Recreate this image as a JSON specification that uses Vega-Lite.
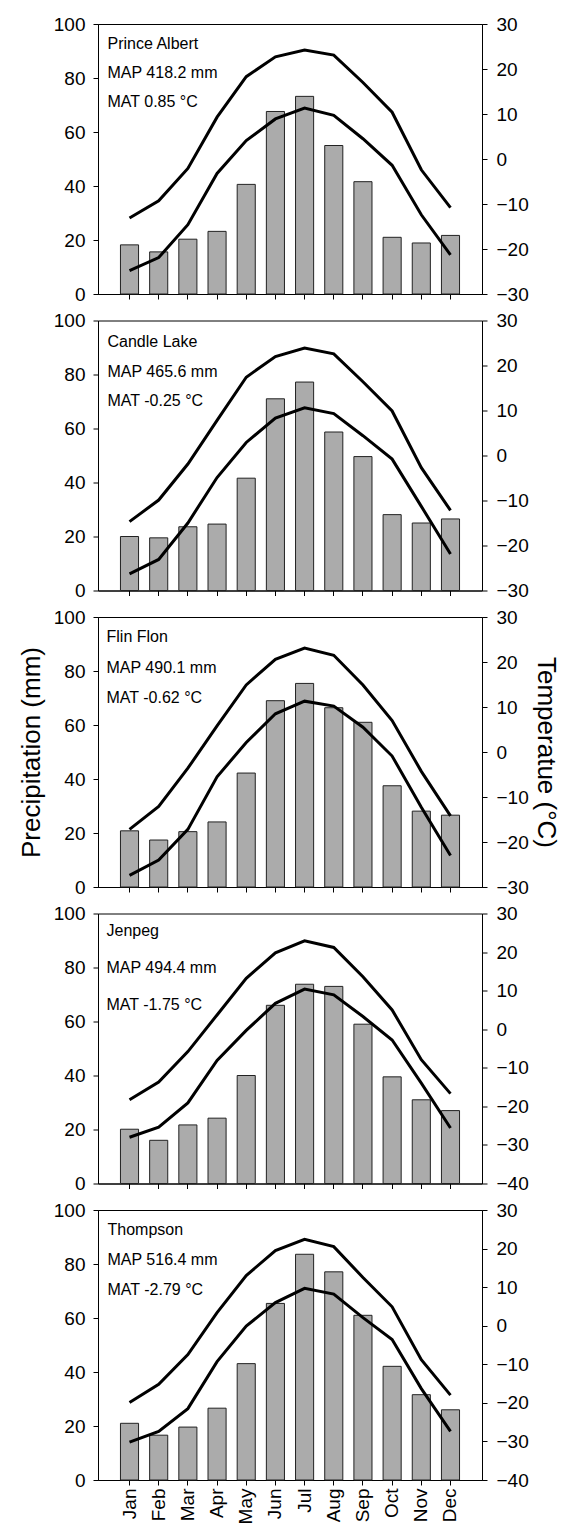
{
  "$schema": "https://vega.github.io/schema/vega-lite/v6.json",
  "padding": {"left": 17, "top": 14, "right": 2, "bottom": 2},
  "background": "white",
  "config": {
    "font": "Liberation Sans",
    "view": {"stroke": "black", "strokeWidth": 1},
    "axis": {"domainColor": "black", "tickColor": "black", "labelColor": "black", "titleColor": "black", "grid": false, "labelFontSize": 19, "titleFontSize": 26, "titleFontWeight": "normal", "tickSize": 5, "domainWidth": 1, "tickWidth": 1},
    "text": {"color": "black"}
  },
  "datasets": {
    "climate": [
      {"station": "Prince Albert", "month": "Jan", "precip": 18.2, "tmax": -13.1, "tmin": -24.8},
      {"station": "Prince Albert", "month": "Feb", "precip": 15.6, "tmax": -9.3, "tmin": -21.9},
      {"station": "Prince Albert", "month": "Mar", "precip": 20.3, "tmax": -2.1, "tmin": -14.6},
      {"station": "Prince Albert", "month": "Apr", "precip": 23.2, "tmax": 9.3, "tmin": -3.2},
      {"station": "Prince Albert", "month": "May", "precip": 40.6, "tmax": 18.3, "tmin": 4.1},
      {"station": "Prince Albert", "month": "Jun", "precip": 67.6, "tmax": 22.7, "tmin": 8.9},
      {"station": "Prince Albert", "month": "Jul", "precip": 73.2, "tmax": 24.2, "tmin": 11.3},
      {"station": "Prince Albert", "month": "Aug", "precip": 55.0, "tmax": 23.1, "tmin": 9.7},
      {"station": "Prince Albert", "month": "Sep", "precip": 41.6, "tmax": 17.0, "tmin": 4.5},
      {"station": "Prince Albert", "month": "Oct", "precip": 21.0, "tmax": 10.4, "tmin": -1.4},
      {"station": "Prince Albert", "month": "Nov", "precip": 18.9, "tmax": -2.4, "tmin": -12.4},
      {"station": "Prince Albert", "month": "Dec", "precip": 21.7, "tmax": -10.8, "tmin": -21.3},
      {"station": "Candle Lake", "month": "Jan", "precip": 20.0, "tmax": -14.7, "tmin": -26.3},
      {"station": "Candle Lake", "month": "Feb", "precip": 19.5, "tmax": -9.9, "tmin": -23.1},
      {"station": "Candle Lake", "month": "Mar", "precip": 23.6, "tmax": -1.9, "tmin": -15.0},
      {"station": "Candle Lake", "month": "Apr", "precip": 24.6, "tmax": 7.8, "tmin": -4.9},
      {"station": "Candle Lake", "month": "May", "precip": 41.6, "tmax": 17.4, "tmin": 2.9},
      {"station": "Candle Lake", "month": "Jun", "precip": 71.0, "tmax": 22.0, "tmin": 8.3},
      {"station": "Candle Lake", "month": "Jul", "precip": 77.2, "tmax": 23.9, "tmin": 10.6},
      {"station": "Candle Lake", "month": "Aug", "precip": 58.7, "tmax": 22.6, "tmin": 9.3},
      {"station": "Candle Lake", "month": "Sep", "precip": 49.6, "tmax": 16.4, "tmin": 4.4},
      {"station": "Candle Lake", "month": "Oct", "precip": 28.1, "tmax": 9.9, "tmin": -0.8},
      {"station": "Candle Lake", "month": "Nov", "precip": 25.0, "tmax": -2.7, "tmin": -11.3},
      {"station": "Candle Lake", "month": "Dec", "precip": 26.5, "tmax": -12.2, "tmin": -21.9},
      {"station": "Flin Flon", "month": "Jan", "precip": 20.8, "tmax": -17.2, "tmin": -27.4},
      {"station": "Flin Flon", "month": "Feb", "precip": 17.4, "tmax": -12.1, "tmin": -24.0},
      {"station": "Flin Flon", "month": "Mar", "precip": 20.5, "tmax": -3.6, "tmin": -17.2},
      {"station": "Flin Flon", "month": "Apr", "precip": 24.1, "tmax": 5.8, "tmin": -5.5},
      {"station": "Flin Flon", "month": "May", "precip": 42.2, "tmax": 14.9, "tmin": 2.1},
      {"station": "Flin Flon", "month": "Jun", "precip": 69.0, "tmax": 20.6, "tmin": 8.5},
      {"station": "Flin Flon", "month": "Jul", "precip": 75.4, "tmax": 23.1, "tmin": 11.3},
      {"station": "Flin Flon", "month": "Aug", "precip": 66.4, "tmax": 21.5, "tmin": 10.2},
      {"station": "Flin Flon", "month": "Sep", "precip": 61.0, "tmax": 14.9, "tmin": 5.5},
      {"station": "Flin Flon", "month": "Oct", "precip": 37.5, "tmax": 7.0, "tmin": -0.9},
      {"station": "Flin Flon", "month": "Nov", "precip": 28.1, "tmax": -4.3, "tmin": -12.3},
      {"station": "Flin Flon", "month": "Dec", "precip": 26.6, "tmax": -14.2, "tmin": -23.0},
      {"station": "Jenpeg", "month": "Jan", "precip": 20.1, "tmax": -18.3, "tmin": -28.0},
      {"station": "Jenpeg", "month": "Feb", "precip": 16.0, "tmax": -13.7, "tmin": -25.4},
      {"station": "Jenpeg", "month": "Mar", "precip": 21.7, "tmax": -5.8, "tmin": -19.1},
      {"station": "Jenpeg", "month": "Apr", "precip": 24.2, "tmax": 3.7, "tmin": -8.1},
      {"station": "Jenpeg", "month": "May", "precip": 40.0, "tmax": 13.2, "tmin": -0.3},
      {"station": "Jenpeg", "month": "Jun", "precip": 66.0, "tmax": 19.8, "tmin": 6.7},
      {"station": "Jenpeg", "month": "Jul", "precip": 73.8, "tmax": 22.9, "tmin": 10.4},
      {"station": "Jenpeg", "month": "Aug", "precip": 73.0, "tmax": 21.2, "tmin": 8.9},
      {"station": "Jenpeg", "month": "Sep", "precip": 59.0, "tmax": 13.6, "tmin": 3.3},
      {"station": "Jenpeg", "month": "Oct", "precip": 39.5, "tmax": 5.0, "tmin": -2.8},
      {"station": "Jenpeg", "month": "Nov", "precip": 31.0, "tmax": -7.9, "tmin": -14.0},
      {"station": "Jenpeg", "month": "Dec", "precip": 27.0, "tmax": -16.7, "tmin": -25.6},
      {"station": "Thompson", "month": "Jan", "precip": 21.0, "tmax": -19.9, "tmin": -30.2},
      {"station": "Thompson", "month": "Feb", "precip": 16.6, "tmax": -15.2, "tmin": -27.4},
      {"station": "Thompson", "month": "Mar", "precip": 19.6, "tmax": -7.5, "tmin": -21.5},
      {"station": "Thompson", "month": "Apr", "precip": 26.6, "tmax": 3.4, "tmin": -9.3},
      {"station": "Thompson", "month": "May", "precip": 43.1, "tmax": 13.0, "tmin": -0.1},
      {"station": "Thompson", "month": "Jun", "precip": 65.4, "tmax": 19.5, "tmin": 6.0},
      {"station": "Thompson", "month": "Jul", "precip": 83.6, "tmax": 22.4, "tmin": 9.7},
      {"station": "Thompson", "month": "Aug", "precip": 77.1, "tmax": 20.5, "tmin": 8.2},
      {"station": "Thompson", "month": "Sep", "precip": 61.0, "tmax": 12.5, "tmin": 2.1},
      {"station": "Thompson", "month": "Oct", "precip": 42.1, "tmax": 4.9, "tmin": -3.6},
      {"station": "Thompson", "month": "Nov", "precip": 31.6, "tmax": -8.8, "tmin": -16.3},
      {"station": "Thompson", "month": "Dec", "precip": 26.0, "tmax": -18.0, "tmin": -27.4}
    ],
    "info": [
      {"station": "Prince Albert", "name": "Prince Albert", "map": "MAP 418.2 mm", "mat": "MAT 0.85 °C"},
      {"station": "Candle Lake", "name": "Candle Lake", "map": "MAP 465.6 mm", "mat": "MAT -0.25 °C"},
      {"station": "Flin Flon", "name": "Flin Flon", "map": "MAP 490.1 mm", "mat": "MAT -0.62 °C"},
      {"station": "Jenpeg", "name": "Jenpeg", "map": "MAP 494.4 mm", "mat": "MAT -1.75 °C"},
      {"station": "Thompson", "name": "Thompson", "map": "MAP 516.4 mm", "mat": "MAT -2.79 °C"}
    ]
  },
  "vconcat": [
    {
      "width": 384, "height": 270,
      "layer": [
        {"layer": [
          {"data": {"name": "climate"}, "transform": [{"filter": "datum.station === 'Prince Albert'"}],
           "mark": {"type": "bar", "fill": "#ababab", "stroke": "#222222", "strokeWidth": 1},
           "encoding": {
             "x": {"field": "month", "type": "ordinal", "scale": {"domain": ["Jan","Feb","Mar","Apr","May","Jun","Jul","Aug","Sep","Oct","Nov","Dec"], "paddingInner": 0.38, "paddingOuter": 0.77}, "axis": {"labels": false, "title": null}},
             "y": {"field": "precip", "type": "quantitative", "scale": {"domain": [0, 100]}, "axis": {"orient": "left", "values": [0,20,40,60,80,100], "labelPadding": 8, "title": null}}
           }},
          {"data": {"name": "info"}, "transform": [{"filter": "datum.station === 'Prince Albert'"}],
           "mark": {"type": "text", "align": "left", "baseline": "middle", "dx": -22, "fontSize": 16},
           "encoding": {"x": {"datum": "Jan", "type": "ordinal", "axis": {"labels": false, "title": null}}, "y": {"datum": 92.5, "type": "quantitative", "axis": {"orient": "left", "values": [0,20,40,60,80,100], "labelPadding": 8, "title": null}}, "text": {"field": "name"}}},
          {"data": {"name": "info"}, "transform": [{"filter": "datum.station === 'Prince Albert'"}],
           "mark": {"type": "text", "align": "left", "baseline": "middle", "dx": -22, "fontSize": 16},
           "encoding": {"x": {"datum": "Jan", "type": "ordinal", "axis": {"labels": false, "title": null}}, "y": {"datum": 81.8, "type": "quantitative", "axis": {"orient": "left", "values": [0,20,40,60,80,100], "labelPadding": 8, "title": null}}, "text": {"field": "map"}}},
          {"data": {"name": "info"}, "transform": [{"filter": "datum.station === 'Prince Albert'"}],
           "mark": {"type": "text", "align": "left", "baseline": "middle", "dx": -22, "fontSize": 16},
           "encoding": {"x": {"datum": "Jan", "type": "ordinal", "axis": {"labels": false, "title": null}}, "y": {"datum": 71.0, "type": "quantitative", "axis": {"orient": "left", "values": [0,20,40,60,80,100], "labelPadding": 8, "title": null}}, "text": {"field": "mat"}}}
        ]},
        {"data": {"name": "climate"}, "transform": [{"filter": "datum.station === 'Prince Albert'"}],
         "layer": [
          {"mark": {"type": "line", "color": "black", "strokeWidth": 3},
           "encoding": {"x": {"field": "month", "type": "ordinal", "axis": {"labels": false, "title": null}}, "y": {"field": "tmax", "type": "quantitative", "scale": {"domain": [-30, 30]}, "axis": {"orient": "right", "values": [-30,-20,-10,0,10,20,30], "labelPadding": 9, "title": null}}}},
          {"mark": {"type": "line", "color": "black", "strokeWidth": 3},
           "encoding": {"x": {"field": "month", "type": "ordinal", "axis": {"labels": false, "title": null}}, "y": {"field": "tmin", "type": "quantitative", "scale": {"domain": [-30, 30]}, "axis": {"orient": "right", "values": [-30,-20,-10,0,10,20,30], "labelPadding": 9, "title": null}}}}
        ]}
      ],
      "resolve": {"scale": {"y": "independent"}}
    },
    {
      "width": 384, "height": 270,
      "layer": [
        {"layer": [
          {"data": {"name": "climate"}, "transform": [{"filter": "datum.station === 'Candle Lake'"}],
           "mark": {"type": "bar", "fill": "#ababab", "stroke": "#222222", "strokeWidth": 1},
           "encoding": {
             "x": {"field": "month", "type": "ordinal", "scale": {"domain": ["Jan","Feb","Mar","Apr","May","Jun","Jul","Aug","Sep","Oct","Nov","Dec"], "paddingInner": 0.38, "paddingOuter": 0.77}, "axis": {"labels": false, "title": null}},
             "y": {"field": "precip", "type": "quantitative", "scale": {"domain": [0, 100]}, "axis": {"orient": "left", "values": [0,20,40,60,80,100], "labelPadding": 8, "title": null}}
           }},
          {"data": {"name": "info"}, "transform": [{"filter": "datum.station === 'Candle Lake'"}],
           "mark": {"type": "text", "align": "left", "baseline": "middle", "dx": -22, "fontSize": 16},
           "encoding": {"x": {"datum": "Jan", "type": "ordinal", "axis": {"labels": false, "title": null}}, "y": {"datum": 91.9, "type": "quantitative", "axis": {"orient": "left", "values": [0,20,40,60,80,100], "labelPadding": 8, "title": null}}, "text": {"field": "name"}}},
          {"data": {"name": "info"}, "transform": [{"filter": "datum.station === 'Candle Lake'"}],
           "mark": {"type": "text", "align": "left", "baseline": "middle", "dx": -22, "fontSize": 16},
           "encoding": {"x": {"datum": "Jan", "type": "ordinal", "axis": {"labels": false, "title": null}}, "y": {"datum": 81.0, "type": "quantitative", "axis": {"orient": "left", "values": [0,20,40,60,80,100], "labelPadding": 8, "title": null}}, "text": {"field": "map"}}},
          {"data": {"name": "info"}, "transform": [{"filter": "datum.station === 'Candle Lake'"}],
           "mark": {"type": "text", "align": "left", "baseline": "middle", "dx": -22, "fontSize": 16},
           "encoding": {"x": {"datum": "Jan", "type": "ordinal", "axis": {"labels": false, "title": null}}, "y": {"datum": 70.2, "type": "quantitative", "axis": {"orient": "left", "values": [0,20,40,60,80,100], "labelPadding": 8, "title": null}}, "text": {"field": "mat"}}}
        ]},
        {"data": {"name": "climate"}, "transform": [{"filter": "datum.station === 'Candle Lake'"}],
         "layer": [
          {"mark": {"type": "line", "color": "black", "strokeWidth": 3},
           "encoding": {"x": {"field": "month", "type": "ordinal", "axis": {"labels": false, "title": null}}, "y": {"field": "tmax", "type": "quantitative", "scale": {"domain": [-30, 30]}, "axis": {"orient": "right", "values": [-30,-20,-10,0,10,20,30], "labelPadding": 9, "title": null}}}},
          {"mark": {"type": "line", "color": "black", "strokeWidth": 3},
           "encoding": {"x": {"field": "month", "type": "ordinal", "axis": {"labels": false, "title": null}}, "y": {"field": "tmin", "type": "quantitative", "scale": {"domain": [-30, 30]}, "axis": {"orient": "right", "values": [-30,-20,-10,0,10,20,30], "labelPadding": 9, "title": null}}}}
        ]}
      ],
      "resolve": {"scale": {"y": "independent"}}
    },
    {
      "width": 384, "height": 270,
      "layer": [
        {"layer": [
          {"data": {"name": "climate"}, "transform": [{"filter": "datum.station === 'Flin Flon'"}],
           "mark": {"type": "bar", "fill": "#ababab", "stroke": "#222222", "strokeWidth": 1},
           "encoding": {
             "x": {"field": "month", "type": "ordinal", "scale": {"domain": ["Jan","Feb","Mar","Apr","May","Jun","Jul","Aug","Sep","Oct","Nov","Dec"], "paddingInner": 0.38, "paddingOuter": 0.77}, "axis": {"labels": false, "title": null}},
             "y": {"field": "precip", "type": "quantitative", "scale": {"domain": [0, 100]}, "axis": {"orient": "left", "values": [0,20,40,60,80,100], "labelPadding": 8, "title": "Precipitation (mm)", "titlePadding": 9}}
           }},
          {"data": {"name": "info"}, "transform": [{"filter": "datum.station === 'Flin Flon'"}],
           "mark": {"type": "text", "align": "left", "baseline": "middle", "dx": -23, "fontSize": 16},
           "encoding": {"x": {"datum": "Jan", "type": "ordinal", "axis": {"labels": false, "title": null}}, "y": {"datum": 92.5, "type": "quantitative", "axis": {"orient": "left", "values": [0,20,40,60,80,100], "labelPadding": 8, "title": "Precipitation (mm)", "titlePadding": 9}}, "text": {"field": "name"}}},
          {"data": {"name": "info"}, "transform": [{"filter": "datum.station === 'Flin Flon'"}],
           "mark": {"type": "text", "align": "left", "baseline": "middle", "dx": -23, "fontSize": 16},
           "encoding": {"x": {"datum": "Jan", "type": "ordinal", "axis": {"labels": false, "title": null}}, "y": {"datum": 81.1, "type": "quantitative", "axis": {"orient": "left", "values": [0,20,40,60,80,100], "labelPadding": 8, "title": "Precipitation (mm)", "titlePadding": 9}}, "text": {"field": "map"}}},
          {"data": {"name": "info"}, "transform": [{"filter": "datum.station === 'Flin Flon'"}],
           "mark": {"type": "text", "align": "left", "baseline": "middle", "dx": -23, "fontSize": 16},
           "encoding": {"x": {"datum": "Jan", "type": "ordinal", "axis": {"labels": false, "title": null}}, "y": {"datum": 70.0, "type": "quantitative", "axis": {"orient": "left", "values": [0,20,40,60,80,100], "labelPadding": 8, "title": "Precipitation (mm)", "titlePadding": 9}}, "text": {"field": "mat"}}}
        ]},
        {"data": {"name": "climate"}, "transform": [{"filter": "datum.station === 'Flin Flon'"}],
         "layer": [
          {"mark": {"type": "line", "color": "black", "strokeWidth": 3},
           "encoding": {"x": {"field": "month", "type": "ordinal", "axis": {"labels": false, "title": null}}, "y": {"field": "tmax", "type": "quantitative", "scale": {"domain": [-30, 30]}, "axis": {"orient": "right", "values": [-30,-20,-10,0,10,20,30], "labelPadding": 9, "title": "Temperatue (°C)", "titlePadding": 4}}}},
          {"mark": {"type": "line", "color": "black", "strokeWidth": 3},
           "encoding": {"x": {"field": "month", "type": "ordinal", "axis": {"labels": false, "title": null}}, "y": {"field": "tmin", "type": "quantitative", "scale": {"domain": [-30, 30]}, "axis": {"orient": "right", "values": [-30,-20,-10,0,10,20,30], "labelPadding": 9, "title": "Temperatue (°C)", "titlePadding": 4}}}}
        ]}
      ],
      "resolve": {"scale": {"y": "independent"}}
    },
    {
      "width": 384, "height": 270,
      "layer": [
        {"layer": [
          {"data": {"name": "climate"}, "transform": [{"filter": "datum.station === 'Jenpeg'"}],
           "mark": {"type": "bar", "fill": "#ababab", "stroke": "#222222", "strokeWidth": 1},
           "encoding": {
             "x": {"field": "month", "type": "ordinal", "scale": {"domain": ["Jan","Feb","Mar","Apr","May","Jun","Jul","Aug","Sep","Oct","Nov","Dec"], "paddingInner": 0.38, "paddingOuter": 0.77}, "axis": {"labels": false, "title": null}},
             "y": {"field": "precip", "type": "quantitative", "scale": {"domain": [0, 100]}, "axis": {"orient": "left", "values": [0,20,40,60,80,100], "labelPadding": 8, "title": null}}
           }},
          {"data": {"name": "info"}, "transform": [{"filter": "datum.station === 'Jenpeg'"}],
           "mark": {"type": "text", "align": "left", "baseline": "middle", "dx": -23, "fontSize": 16},
           "encoding": {"x": {"datum": "Jan", "type": "ordinal", "axis": {"labels": false, "title": null}}, "y": {"datum": 93.6, "type": "quantitative", "axis": {"orient": "left", "values": [0,20,40,60,80,100], "labelPadding": 8, "title": null}}, "text": {"field": "name"}}},
          {"data": {"name": "info"}, "transform": [{"filter": "datum.station === 'Jenpeg'"}],
           "mark": {"type": "text", "align": "left", "baseline": "middle", "dx": -23, "fontSize": 16},
           "encoding": {"x": {"datum": "Jan", "type": "ordinal", "axis": {"labels": false, "title": null}}, "y": {"datum": 80.0, "type": "quantitative", "axis": {"orient": "left", "values": [0,20,40,60,80,100], "labelPadding": 8, "title": null}}, "text": {"field": "map"}}},
          {"data": {"name": "info"}, "transform": [{"filter": "datum.station === 'Jenpeg'"}],
           "mark": {"type": "text", "align": "left", "baseline": "middle", "dx": -23, "fontSize": 16},
           "encoding": {"x": {"datum": "Jan", "type": "ordinal", "axis": {"labels": false, "title": null}}, "y": {"datum": 66.1, "type": "quantitative", "axis": {"orient": "left", "values": [0,20,40,60,80,100], "labelPadding": 8, "title": null}}, "text": {"field": "mat"}}}
        ]},
        {"data": {"name": "climate"}, "transform": [{"filter": "datum.station === 'Jenpeg'"}],
         "layer": [
          {"mark": {"type": "line", "color": "black", "strokeWidth": 3},
           "encoding": {"x": {"field": "month", "type": "ordinal", "axis": {"labels": false, "title": null}}, "y": {"field": "tmax", "type": "quantitative", "scale": {"domain": [-40, 30]}, "axis": {"orient": "right", "values": [-40,-30,-20,-10,0,10,20,30], "labelPadding": 9, "title": null}}}},
          {"mark": {"type": "line", "color": "black", "strokeWidth": 3},
           "encoding": {"x": {"field": "month", "type": "ordinal", "axis": {"labels": false, "title": null}}, "y": {"field": "tmin", "type": "quantitative", "scale": {"domain": [-40, 30]}, "axis": {"orient": "right", "values": [-40,-30,-20,-10,0,10,20,30], "labelPadding": 9, "title": null}}}}
        ]}
      ],
      "resolve": {"scale": {"y": "independent"}}
    },
    {
      "width": 384, "height": 270,
      "layer": [
        {"layer": [
          {"data": {"name": "climate"}, "transform": [{"filter": "datum.station === 'Thompson'"}],
           "mark": {"type": "bar", "fill": "#ababab", "stroke": "#222222", "strokeWidth": 1},
           "encoding": {
             "x": {"field": "month", "type": "ordinal", "scale": {"domain": ["Jan","Feb","Mar","Apr","May","Jun","Jul","Aug","Sep","Oct","Nov","Dec"], "paddingInner": 0.38, "paddingOuter": 0.77}, "axis": {"labelAngle": -90, "labelPadding": 3, "title": null}},
             "y": {"field": "precip", "type": "quantitative", "scale": {"domain": [0, 100]}, "axis": {"orient": "left", "values": [0,20,40,60,80,100], "labelPadding": 8, "title": null}}
           }},
          {"data": {"name": "info"}, "transform": [{"filter": "datum.station === 'Thompson'"}],
           "mark": {"type": "text", "align": "left", "baseline": "middle", "dx": -22, "fontSize": 16},
           "encoding": {"x": {"datum": "Jan", "type": "ordinal", "axis": {"labelAngle": -90, "labelPadding": 3, "title": null}}, "y": {"datum": 92.5, "type": "quantitative", "axis": {"orient": "left", "values": [0,20,40,60,80,100], "labelPadding": 8, "title": null}}, "text": {"field": "name"}}},
          {"data": {"name": "info"}, "transform": [{"filter": "datum.station === 'Thompson'"}],
           "mark": {"type": "text", "align": "left", "baseline": "middle", "dx": -22, "fontSize": 16},
           "encoding": {"x": {"datum": "Jan", "type": "ordinal", "axis": {"labelAngle": -90, "labelPadding": 3, "title": null}}, "y": {"datum": 81.5, "type": "quantitative", "axis": {"orient": "left", "values": [0,20,40,60,80,100], "labelPadding": 8, "title": null}}, "text": {"field": "map"}}},
          {"data": {"name": "info"}, "transform": [{"filter": "datum.station === 'Thompson'"}],
           "mark": {"type": "text", "align": "left", "baseline": "middle", "dx": -22, "fontSize": 16},
           "encoding": {"x": {"datum": "Jan", "type": "ordinal", "axis": {"labelAngle": -90, "labelPadding": 3, "title": null}}, "y": {"datum": 70.3, "type": "quantitative", "axis": {"orient": "left", "values": [0,20,40,60,80,100], "labelPadding": 8, "title": null}}, "text": {"field": "mat"}}}
        ]},
        {"data": {"name": "climate"}, "transform": [{"filter": "datum.station === 'Thompson'"}],
         "layer": [
          {"mark": {"type": "line", "color": "black", "strokeWidth": 3},
           "encoding": {"x": {"field": "month", "type": "ordinal", "axis": {"labelAngle": -90, "labelPadding": 3, "title": null}}, "y": {"field": "tmax", "type": "quantitative", "scale": {"domain": [-40, 30]}, "axis": {"orient": "right", "values": [-40,-30,-20,-10,0,10,20,30], "labelPadding": 9, "title": null}}}},
          {"mark": {"type": "line", "color": "black", "strokeWidth": 3},
           "encoding": {"x": {"field": "month", "type": "ordinal", "axis": {"labelAngle": -90, "labelPadding": 3, "title": null}}, "y": {"field": "tmin", "type": "quantitative", "scale": {"domain": [-40, 30]}, "axis": {"orient": "right", "values": [-40,-30,-20,-10,0,10,20,30], "labelPadding": 9, "title": null}}}}
        ]}
      ],
      "resolve": {"scale": {"y": "independent"}}
    }
  ],
  "spacing": 26.5,
  "bounds": "flush"
}
